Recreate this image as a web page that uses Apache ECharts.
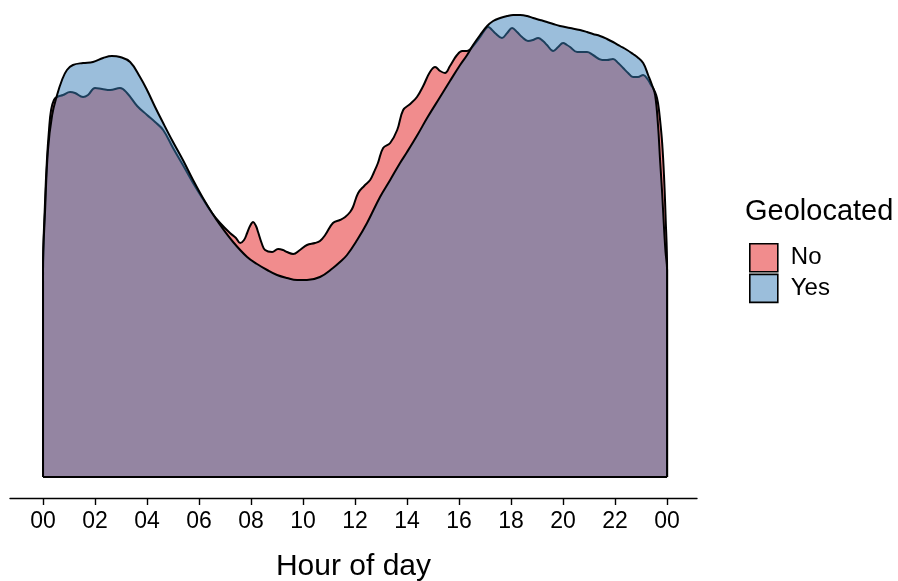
<!DOCTYPE html>
<html>
<head>
<meta charset="utf-8">
<script src="https://cdn.jsdelivr.net/npm/echarts@6/dist/echarts.min.js"></script>
<style>html,body{margin:0;padding:0;background:#fff;}#c{width:898px;height:581px;}</style>
</head>
<body>
<div id="c"></div>
<script>
// Density of hour of day (relative units)
const noHours = [0,0,0.08,0.15,0.23,0.31,0.42,0.54,0.77,1.04,1.23,1.54,1.73,2.00,2.27,2.58,2.96,3.23,3.62,4.00,4.31,4.62,5.00,5.38,5.77,6.15,6.50,6.81,7.19,7.42,7.58,7.73,7.85,7.96,8.08,8.19,8.27,8.42,8.54,8.81,9.04,9.23,9.38,9.62,9.88,10.15,10.46,10.65,10.85,11.15,11.42,11.62,11.81,11.92,12.12,12.35,12.58,12.73,12.88,13.08,13.35,13.62,13.85,14.12,14.38,14.62,14.88,15.08,15.27,15.46,15.65,15.92,16.12,16.31,16.54,16.81,16.96,17.12,17.27,17.38,17.65,17.85,18.04,18.23,18.42,18.65,18.85,19.04,19.23,19.38,19.62,19.81,20.00,20.15,20.27,20.54,20.73,20.92,21.15,21.50,21.69,21.92,22.12,22.31,22.50,22.69,22.88,23.08,23.27,23.38,23.46,23.58,23.65,23.73,23.81,23.88,23.94,24,24];
const noDensity = [0,207,277,317,347,367,377,380,382,385,384,380,382,389,388,387,389,384,371,362,355,347,329,312,294,278,264,254,244,239,234,237,244,251,255,251,245,233,227,225,228,227,225,223,227,232,234,236,242,254,257,260,265,270,284,291,297,305,314,329,334,347,367,373,380,391,405,410,406,404,411,422,426,426,431,440,446,450,447,444,439,444,449,445,440,436,437,439,436,432,426,430,434,432,430,425,425,425,422,417,417,418,414,409,404,400,400,402,397,392,389,382,374,357,334,302,262,207,0];
const yesHours = [0,0,0.08,0.19,0.35,0.54,0.73,0.92,1.15,1.54,1.92,2.31,2.65,2.96,3.35,3.73,4.00,4.31,4.62,5.00,5.38,5.77,6.15,6.50,6.81,7.31,7.85,8.23,8.62,9.00,9.38,9.77,10.15,10.65,11.15,11.42,11.69,12.08,12.46,12.96,13.35,13.73,14.00,14.42,14.77,15.27,15.65,16.04,16.31,16.54,16.81,17.08,17.31,17.58,17.85,18.08,18.35,18.62,18.85,19.12,19.38,19.62,19.88,20.27,20.65,20.92,21.15,21.42,21.69,21.92,22.19,22.46,22.69,22.85,23.08,23.27,23.42,23.54,23.65,23.73,23.81,23.88,23.94,24,24];
const yesDensity = [0,207,267,327,362,382,397,407,412,414,415,419,421,420,415,400,387,370,354,335,317,297,279,264,252,235,220,213,207,202,199,197,197,200,209,215,222,237,254,280,297,314,325,343,359,380,396,412,422,432,442,451,456,459,461,462,462,461,459,457,455,453,451,449,447,445,443,441,438,435,431,427,423,420,414,402,392,382,352,317,284,250,225,207,0];
const tickHours = [0,2,4,6,8,10,12,14,16,18,20,22,24];
const tickLabels = ['00','02','04','06','08','10','12','14','16','18','20','22','00'];
const groups = ['No','Yes'];

const FONT = '"Liberation Sans", Arial, Helvetica, sans-serif';
const zip = (xs, ys) => xs.map((x, i) => [x, ys[i]]);
const fills = {No: 'rgba(228,26,28,0.5)', Yes: 'rgba(55,126,184,0.5)'};
const keyFills = {No: '#F18C8D', Yes: '#9BBEDB'};

const chart = echarts.init(document.getElementById('c'), null, {renderer: 'canvas'});
function areaSeries(name, xs, ys, z) {
  return {
    name: name, type: 'line', data: zip(xs, ys), z: z,
    smooth: 0.4, symbol: 'none', silent: true,
    lineStyle: {color: '#000', width: 2},
    itemStyle: {color: keyFills[name]},
    areaStyle: {color: fills[name], opacity: 1}
  };
}
chart.setOption({
  animation: false,
  backgroundColor: '#fff',
  grid: {left: 10, right: 201, top: 10, bottom: 83, containLabel: false, outerBoundsMode: 'none'},
  title: {
    text: 'Geolocated', left: 740, top: 192,
    textStyle: {fontFamily: FONT, fontSize: 29, fontWeight: 'normal', color: '#000'}
  },
  legend: {
    orient: 'vertical', left: 744, top: 238, itemWidth: 28, itemHeight: 28, itemGap: 1,
    textStyle: {fontFamily: FONT, fontSize: 24, color: '#000', padding: [0,0,0,8]},
    data: groups.map(g => ({name: g, icon: 'rect', itemStyle: {color: keyFills[g], borderColor: '#000', borderWidth: 1.6}}))
  },
  xAxis: {
    type: 'value', min: -1.27, max: 25.15,
    name: 'Hour of day', nameLocation: 'middle', nameGap: 54,
    nameTextStyle: {fontFamily: FONT, fontSize: 30, color: '#000'},
    axisLine: {show: true, onZero: false, lineStyle: {color: '#000', width: 1.4}},
    axisTick: {show: true, customValues: tickHours, length: 7, lineStyle: {color: '#000', width: 1.4}},
    axisLabel: {show: true, customValues: tickHours, margin: 12, fontFamily: FONT, fontSize: 23, color: '#000',
      formatter: v => tickLabels[tickHours.indexOf(Math.round(v))]},
    splitLine: {show: false}
  },
  yAxis: {type: 'value', min: -21, max: 467, show: false, splitLine: {show: false}},
  series: [
    areaSeries('No', noHours, noDensity, 2),
    areaSeries('Yes', yesHours, yesDensity, 3),
    {
      name: 'base', type: 'line', symbol: 'none', silent: true, z: 4,
      data: [[noHours[0], 0], [noHours[noHours.length - 1], 0]],
      lineStyle: {color: '#000', width: 2}
    }
  ]
});
</script>
</body>
</html>
